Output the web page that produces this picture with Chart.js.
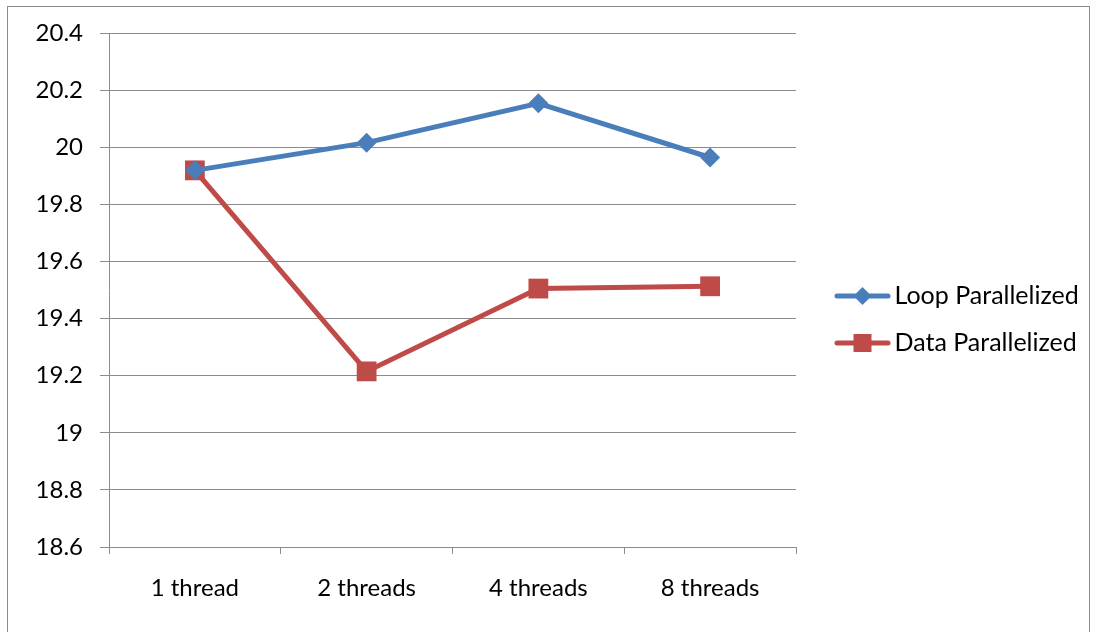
<!DOCTYPE html>
<html>
<head>
<meta charset="utf-8">
<script src="https://cdn.jsdelivr.net/npm/chart.js@4.4.1/dist/chart.umd.min.js"></script>
<style>
  html, body { margin: 0; padding: 0; background: #fff; }
  #wrap { position: relative; width: 1095px; height: 632px; overflow: hidden; }
  #frame { position: absolute; left: 7px; top: 6px; width: 1083px; height: 640px; border: 1px solid #8c8c8c; box-sizing: border-box; }
  #chart { position: absolute; left: 0; top: 0; }
</style>
</head>
<body>
<div id="wrap">
  <div id="frame"></div>
  <canvas id="chart" width="1095" height="632"></canvas>
</div>
<script>
// chart data
const categories = ['1 thread', '2 threads', '4 threads', '8 threads'];
const loopParallelized = [19.919, 20.016, 20.154, 19.964];
const dataParallelized = [19.919, 19.215, 19.505, 19.513];

const blue = '#4a7ebb';
const red = '#be4b48';
const gridColor = '#8c8c8c';
const fontFamily = 'Lato, "Open Sans", sans-serif';
const fontSize = 24;

// legend swatch: line with the marker in the middle, like Excel.
// the canvas is wider than the line so the line sits right of the box centre
function legendSwatch(color, shape) {
  const c = document.createElement('canvas');
  c.width = 82;
  c.height = 22;
  const g = c.getContext('2d');
  const x0 = 26, x1 = 81, mid = (x0 + x1) / 2;
  g.strokeStyle = color;
  g.lineWidth = 5;
  g.lineCap = 'round';
  g.beginPath();
  g.moveTo(x0 + 2, 11);
  g.lineTo(x1 - 2, 11);
  g.stroke();
  g.fillStyle = color;
  if (shape === 'diamond') {
    g.beginPath();
    g.moveTo(mid, 2);
    g.lineTo(mid + 9, 11);
    g.lineTo(mid, 20);
    g.lineTo(mid - 9, 11);
    g.closePath();
    g.fill();
  } else {
    g.fillRect(mid - 9, 2, 18, 18);
  }
  return c;
}

const swatches = [legendSwatch(blue, 'diamond'), legendSwatch(red, 'square')];

// nudge the legend up a little (Excel centres it on the plot) and
// let its box reach the canvas edge so the labels are not clipped
const legendShift = {
  id: 'legendShift',
  afterLayout(chart) {
    const lg = chart.legend;
    if (lg) {
      lg.top -= 8;
      lg.bottom -= 8;
      lg.right = chart.width;
      lg.width = lg.right - lg.left;
    }
  }
};

new Chart(document.getElementById('chart'), {
  type: 'line',
  data: {
    labels: categories,
    datasets: [
      {
        label: 'Loop Parallelized',
        data: loopParallelized,
        borderColor: blue,
        backgroundColor: blue,
        borderWidth: 5,
        pointStyle: 'rectRot',
        pointRadius: 10,
        pointHoverRadius: 10,
        pointBorderWidth: 0,
        tension: 0
      },
      {
        label: 'Data Parallelized',
        data: dataParallelized,
        borderColor: red,
        backgroundColor: red,
        borderWidth: 5,
        pointStyle: 'rect',
        pointRadius: 14,
        pointHoverRadius: 14,
        pointBorderWidth: 0,
        tension: 0
      }
    ]
  },
  options: {
    responsive: false,
    animation: false,
    layout: { padding: { left: 10, top: 33, right: 37, bottom: 10 } },
    plugins: {
      tooltip: { enabled: false },
      legend: {
        position: 'right',
        labels: {
          usePointStyle: true,
          pointStyleWidth: 64,
          padding: 22,
          color: '#000',
          font: { family: fontFamily, size: 25 },
          generateLabels(chart) {
            return chart.data.datasets.map((ds, i) => ({
              text: ds.label,
              pointStyle: swatches[i],
              fillStyle: ds.borderColor,
              strokeStyle: ds.borderColor,
              lineWidth: 0,
              hidden: false,
              datasetIndex: i,
              fontColor: '#000'
            }));
          }
        }
      }
    },
    scales: {
      x: {
        offset: true,
        border: { color: gridColor, width: 1 },
        grid: {
          offset: true,
          drawOnChartArea: false,
          drawTicks: true,
          tickLength: 7,
          color: gridColor
        },
        ticks: {
          color: '#000',
          padding: 20,
          font: { family: fontFamily, size: fontSize },
          maxRotation: 0
        },
        afterFit(scale) { scale.height = 75; }
      },
      y: {
        min: 18.6,
        max: 20.4,
        border: { color: gridColor, width: 1 },
        grid: {
          color: gridColor,
          lineWidth: 1,
          drawTicks: true,
          tickLength: 9
        },
        ticks: {
          stepSize: 0.2,
          color: '#000',
          padding: 17,
          font: { family: fontFamily, size: fontSize },
          callback: (v) => String(Math.round(v * 10) / 10)
        },
        afterFit(scale) { scale.width = 99; }
      }
    }
  },
  plugins: [legendShift]
});
</script>
</body>
</html>
